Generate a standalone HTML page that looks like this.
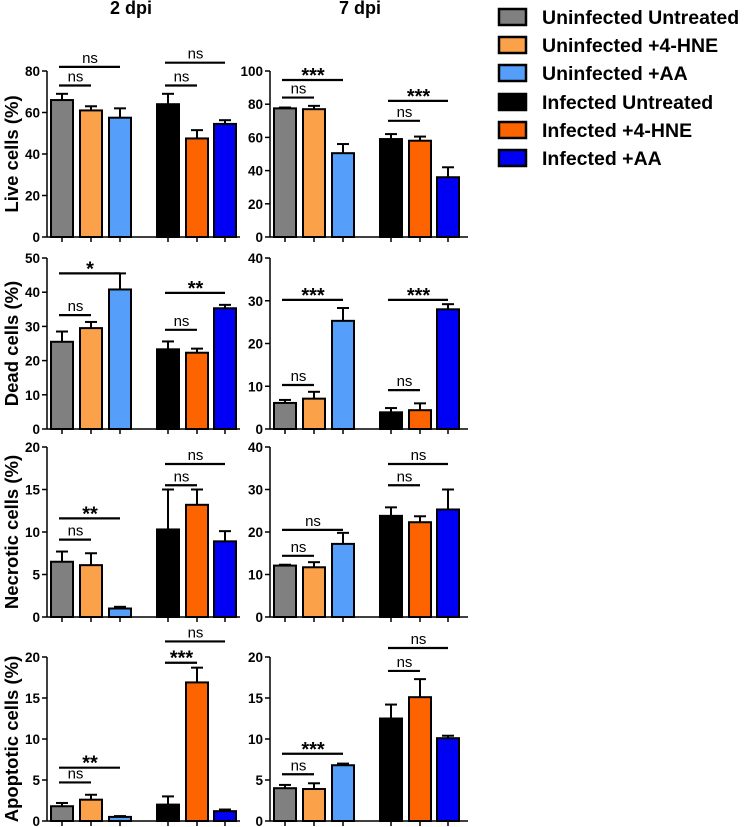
<!DOCTYPE html>
<html><head><meta charset="utf-8"><style>
body{margin:0;background:#fff;}
svg{display:block;font-family:"Liberation Sans",Arial,sans-serif;}
</style></head><body>
<svg id="c" width="747" height="827"></svg>
<script>
// ---- data ----
const groups = ["Uninfected Untreated","Uninfected +4-HNE","Uninfected +AA","Infected Untreated","Infected +4-HNE","Infected +AA"];
const colors = ["#808080","#fba14a","#559ffb","#000000","#fd6400","#0000f5"];
const rowLabels = ["Live cells (%)","Dead cells (%)","Necrotic cells (%)","Apoptotic cells (%)"];
const colTitles = ["2 dpi","7 dpi"];
const yMax = [[80,100],[50,40],[20,40],[20,20]];
const yStep = [[20,20],[10,10],[5,10],[5,5]];
const means = [
 [[66,61,57.5,64,47.5,54.5],[77.5,77,50.5,59,58,36]],
 [[25.5,29.5,40.8,23.3,22.3,35.3],[6.1,7.1,25.3,3.9,4.4,28]],
 [[6.5,6.1,1.0,10.3,13.2,8.9],[12.1,11.7,17.2,23.8,22.3,25.3]],
 [[1.8,2.6,0.5,2.0,16.9,1.2],[4,3.9,6.8,12.5,15.1,10.1]]
];
const errs = [
 [[3,2,4.5,5,4,1.8],[0.5,2,5.5,3,2.5,6]],
 [[3,1.8,4.7,2.3,1.2,1],[0.7,1.6,3,1,1.6,1.2]],
 [[1.2,1.4,0.2,4.7,1.8,1.2],[0.2,1.2,2.6,2,1.4,4.7]],
 [[0.4,0.6,0.1,1,1.8,0.2],[0.4,0.7,0.2,1.7,2.2,0.3]]
];
// brackets: [fromBar, toBar, level(data units), label]
const sig = [
 [[[0,1,73,"ns"],[0,2,82,"ns"],[3,4,73,"ns"],[3,5,84,"ns"]],
  [[0,1,84,"ns"],[0,2,94.6,"***"],[3,4,70,"ns"],[3,5,82,"***"]]],
 [[[0,1,33.3,"ns"],[0,2,45.5,"*"],[3,4,29,"ns"],[3,5,39.8,"**"]],
  [[0,1,10.3,"ns"],[0,2,30.2,"***"],[3,4,9.1,"ns"],[3,5,30.2,"***"]]],
 [[[0,1,9.1,"ns"],[0,2,11.6,"**"],[3,4,15.5,"ns"],[3,5,18,"ns"]],
  [[0,1,14.4,"ns"],[0,2,20.5,"ns"],[3,4,31,"ns"],[3,5,36,"ns"]]],
 [[[0,1,4.7,"ns"],[0,2,6.5,"**"],[3,4,19.3,"***"],[3,5,21.9,"ns"]],
  [[0,1,5.7,"ns"],[0,2,8.2,"***"],[3,4,18.3,"ns"],[3,5,21.1,"ns"]]]
];
// ---- layout ----
const svg=document.getElementById('c');
const NS='http://www.w3.org/2000/svg';
function mk(tag,attrs,parent){const e=document.createElementNS(NS,tag);for(const k in attrs)e.setAttribute(k,attrs[k]);(parent||svg).appendChild(e);return e;}
const rowTop=[71,258,447,657], rowBot=[237,429,617,821];
const colAxis=[47,270], colEnd=[240,468];
const barOff=[3,32,61,109,138,166], barW=24;
const titleX=[131,360];
colTitles.forEach((t,c)=>{
 const e=mk('text',{x:titleX[c],y:14,'text-anchor':'middle','font-size':18,'font-weight':'bold'});
 e.textContent=t;
 
 
});
for(let r=0;r<4;r++){
 const lab=mk('text',{x:0,y:0,transform:`translate(18,${(rowTop[r]+rowBot[r])/2}) rotate(-90)`,'text-anchor':'middle','font-size':18.5,'font-weight':'bold'});
 lab.textContent=rowLabels[r];
 
 
 for(let c=0;c<2;c++){
  const g=mk('g',{});
  
  
  const top=rowTop[r],bot=rowBot[r],ax=colAxis[c],mx=yMax[r][c];
  const y=v=>bot-(v/mx)*(bot-top);
  const cx=i=>ax+barOff[i]+barW/2;
  const ya=mk('line',{x1:ax,y1:top,x2:ax,y2:bot,stroke:'#000','stroke-width':1.5},g);
  
  const xa=mk('line',{x1:ax,y1:bot,x2:colEnd[c],y2:bot,stroke:'#000','stroke-width':1.5},g);
  
  for(let v=0;v<=mx+1e-9;v+=yStep[r][c]){
   mk('line',{x1:ax-5,y1:y(v),x2:ax,y2:y(v),stroke:'#000','stroke-width':1.5},g);
   const t=mk('text',{x:ax-7,y:y(v)+5,'text-anchor':'end','font-size':13.5,'font-weight':'bold'},g);
   t.textContent=v;
   
   
  }
  for(let i=0;i<6;i++){
   mk('line',{x1:cx(i),y1:bot,x2:cx(i),y2:bot+5,stroke:'#000','stroke-width':1.5},g);
   const m=means[r][c][i],e=errs[r][c][i];
   const el=mk('line',{x1:cx(i),y1:y(m),x2:cx(i),y2:y(m+e),stroke:'#000','stroke-width':2},g);
   
   mk('line',{x1:cx(i)-6,y1:y(m+e),x2:cx(i)+6,y2:y(m+e),stroke:'#000','stroke-width':2},g);
   const b=mk('rect',{x:ax+barOff[i]+1,y:y(m),width:barW-2,height:bot-y(m),fill:colors[i],stroke:'#000','stroke-width':2},g);
   
   
  }
  sig[r][c].forEach(s=>{
   const ly=y(s[2]);
   const l=mk('line',{x1:cx(s[0])-3,y1:ly,x2:cx(s[1]),y2:ly,stroke:'#000','stroke-width':2.2},g);
   
   const t=mk('text',{x:(cx(s[0])+cx(s[1]))/2-1,y:s[3]==='ns'?ly-4:ly+2,'text-anchor':'middle','font-size':s[3]==='ns'?15:20,'font-weight':s[3]==='ns'?'normal':'bold'},g);
   t.textContent=s[3];
   
  });
 }
}
// legend
const legY=[17,45,73,102,130,158];
groups.forEach((n,i)=>{
 const g=mk('g',{});
 
 
 mk('rect',{x:499,y:legY[i]-8,width:27,height:16,fill:colors[i],stroke:'#000','stroke-width':2.5},g);
 const t=mk('text',{x:542,y:legY[i]+7,'font-size':19.5,'font-weight':'bold'},g);
 t.textContent=n;
});
</script>
</body></html>
